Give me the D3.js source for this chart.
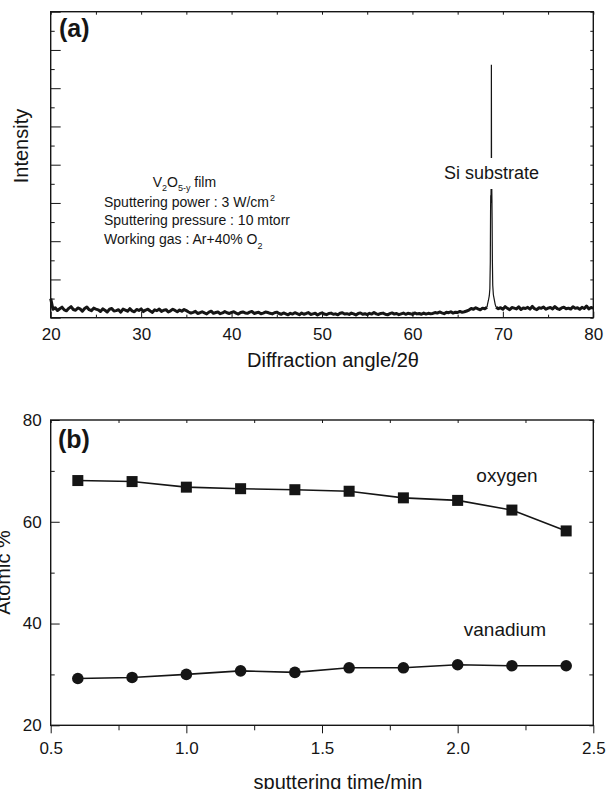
<!DOCTYPE html>
<html>
<head>
<meta charset="utf-8">
<script src="https://cdn.jsdelivr.net/npm/d3@7"></script>
<style>
body{margin:0;background:#fff;}
svg{display:block;font-family:"Liberation Sans",Arial,Helvetica,sans-serif;}
</style>
</head>
<body>
<svg id="vis" width="606" height="789"></svg>
<script>
// ---- panel (a): XRD scan, arbitrary counts
var scanLowStart = 20, scanHighStart = 69.25, scanStep = 0.25;
var scanLow = [
    100, 44, 52, 38, 47, 55, 41, 36, 49, 58, 43, 39, 51, 46, 34, 48, 56, 42, 37, 50, 45,
    41, 33, 46, 39, 30, 44, 48, 35, 37, 42, 29, 45, 40, 34, 47, 36, 31, 43, 38, 46,
    32, 40, 44, 35, 28, 41, 37, 45, 33, 39, 42, 30, 36, 44, 38, 31, 40, 34, 43, 37,
    30, 24, 28, 33, 22, 26, 31, 25, 20, 29, 34, 23, 27, 30, 21, 25, 32, 26, 22, 28,
    31, 24, 19, 27, 30, 25, 23, 29, 33, 22, 26, 28, 21, 24, 30, 27, 23, 20, 26, 29,
    22, 18, 25, 20, 15, 23, 19, 26, 21, 16, 24, 18, 22, 27, 17, 20, 23, 14, 21, 25,
    19, 16, 22, 24, 18, 20, 15, 23, 26, 19, 21, 17, 24, 20, 14, 22, 25, 18, 21, 16,
    23, 19, 27, 20, 17, 22, 24, 18, 15, 21, 25, 19, 22, 16, 20, 24, 18, 23, 21, 17,
    25, 20, 22, 18, 24, 19, 23, 21,
    22, 27, 24, 30, 25, 21, 28, 26, 31, 24, 29, 27, 33, 28, 31, 35,
    40, 48, 44, 52, 46, 41, 50, 47, 55
];
var peakAngles = [68.3, 68.4, 68.5, 68.56, 68.61, 68.64, 68.66, 68.68, 68.7, 68.72, 68.73, 68.75, 68.77, 68.79, 68.81, 68.84, 68.88, 68.95, 69.05, 69.15];
var peakCounts = [70, 90, 115, 150, 290, 560, 640, 600, 680, 650, 1323, 660, 690, 620, 520, 300, 170, 120, 95, 70];
var scanHigh = [
    55, 47, 52, 44, 58, 49, 42, 53, 50, 46, 57, 43, 51, 48, 54, 45, 59, 47, 42, 52,
    49, 56, 44, 50, 53, 46, 58, 48, 43, 51, 55, 47, 50, 45, 57, 49, 52, 44, 54, 48,
    61, 46, 53, 50
];
var angleTicks = [20, 30, 40, 50, 60, 70, 80];

// ---- panel (b): composition vs sputtering time
var times = [0.6, 0.8, 1.0, 1.2, 1.4, 1.6, 1.8, 2.0, 2.2, 2.4];
var oxygen = [68.1, 67.9, 66.8, 66.5, 66.3, 66.0, 64.7, 64.2, 62.3, 58.2];
var vanadium = [29.2, 29.4, 30.0, 30.7, 30.4, 31.3, 31.3, 31.9, 31.7, 31.7];
var timeTicks = [0.5, 1.0, 1.5, 2.0, 2.5];
var atomicTicks = [20, 40, 60, 80];

var svg = d3.select('#vis');
var ink = '#151515';
var plotL = 50.7, plotR = 593.3;

// ============ panel (a)
var lowPts = scanLow.map(function(c, i){ return {a: scanLowStart + i * scanStep, c: c}; });
var highPts = scanHigh.map(function(c, i){ return {a: scanHighStart + i * scanStep, c: c}; });
var peakPts = peakAngles.map(function(a, i){ return {a: a, c: peakCounts[i]}; });
peakPts.unshift(lowPts[lowPts.length - 1]);
peakPts.push(highPts[0]);

var xa = d3.scaleLinear().domain([20, 80]).range([plotL, plotR]);
var ya = d3.scaleLinear().domain([0, 1600]).range([317.7, 11.7]);

var ga = svg.append('g').attr('class', 'panel-a');

function noDomain(g){ g.select('.domain').remove(); }

var scanLine = d3.line().x(function(d){ return xa(d.a); }).y(function(d){ return ya(d.c); });

// noisy background is a dense band, the peak itself is thin
[lowPts, highPts].forEach(function(pts){
    ga.append('path')
        .datum(pts)
        .attr('fill', 'none')
        .attr('stroke', ink)
        .attr('stroke-width', 3)
        .attr('stroke-linejoin', 'round')
        .attr('d', scanLine);
});
ga.append('path')
    .datum(peakPts)
    .attr('fill', 'none')
    .attr('stroke', ink)
    .attr('stroke-width', 1.2)
    .attr('d', scanLine);

// label sits on a white patch that breaks the peak line
ga.append('rect')
    .attr('x', 442).attr('y', 158)
    .attr('width', 100).attr('height', 31)
    .attr('fill', '#fff');
ga.append('text')
    .attr('x', 491.5).attr('y', 179)
    .attr('text-anchor', 'middle')
    .attr('font-size', 18)
    .attr('fill', ink)
    .text('Si substrate');

// axes (ticks only, frame drawn separately)
ga.append('g').attr('transform', 'translate(0,317.7)').attr('color', ink)
    .call(d3.axisBottom(xa).tickValues(angleTicks).tickSize(-6).tickPadding(10).tickFormat(d3.format('d')))
    .call(noDomain)
    .selectAll('text').attr('font-size', 17).attr('fill', ink);
ga.append('g').attr('transform', 'translate(0,317.7)').attr('color', ink)
    .call(d3.axisBottom(xa).tickValues(d3.range(25, 80, 10)).tickSize(-3).tickFormat(''))
    .call(noDomain);
ga.append('g').attr('transform', 'translate(0,11.7)').attr('color', ink)
    .call(d3.axisTop(xa).tickValues(d3.range(20, 81, 5)).tickSize(-3).tickFormat(''))
    .call(noDomain);
ga.append('g').attr('transform', 'translate(' + plotL + ',0)').attr('color', ink)
    .call(d3.axisLeft(ya).tickValues(d3.range(0, 1601, 200)).tickSize(-10).tickFormat(''))
    .call(noDomain);
ga.append('g').attr('transform', 'translate(' + plotL + ',0)').attr('color', ink)
    .call(d3.axisLeft(ya).tickValues(d3.range(100, 1600, 200)).tickSize(-4).tickFormat(''))
    .call(noDomain);
ga.append('g').attr('transform', 'translate(' + plotR + ',0)').attr('color', ink)
    .call(d3.axisRight(ya).tickValues(d3.range(0, 1601, 100)).tickSize(-3).tickFormat(''))
    .call(noDomain);

ga.append('rect')
    .attr('x', plotL).attr('y', 11.7)
    .attr('width', plotR - plotL).attr('height', 306)
    .attr('fill', 'none').attr('stroke', ink).attr('stroke-width', 1.4);

ga.append('text')
    .attr('x', 59).attr('y', 37)
    .attr('font-size', 25).attr('font-weight', 'bold').attr('fill', ink)
    .text('(a)');

ga.append('text')
    .attr('transform', 'translate(27.5,146) rotate(-90)')
    .attr('text-anchor', 'middle')
    .attr('font-size', 20).attr('fill', ink)
    .text('Intensity');

ga.append('text')
    .attr('x', 333).attr('y', 367)
    .attr('text-anchor', 'middle')
    .attr('font-size', 20).attr('fill', ink)
    .text('Diffraction angle/2θ');

// deposition notes
var note = ga.append('g').attr('font-size', 14).attr('fill', ink);
var t1 = note.append('text').attr('x', 152.7).attr('y', 187);
t1.append('tspan').text('V');
t1.append('tspan').attr('dy', 4).attr('font-size', 9).text('2');
t1.append('tspan').attr('dy', -4).text('O');
t1.append('tspan').attr('dy', 4).attr('font-size', 9).text('5-y');
t1.append('tspan').attr('dy', -4).text(' film');
var t2 = note.append('text').attr('x', 104).attr('y', 206.7);
t2.append('tspan').text('Sputtering power : 3 W/cm');
t2.append('tspan').attr('dy', -6).attr('dx', 1).attr('font-size', 9).text('2');
note.append('text').attr('x', 104).attr('y', 225.3).text('Sputtering pressure : 10 mtorr');
var t4 = note.append('text').attr('x', 104).attr('y', 243.7);
t4.append('tspan').text('Working gas : Ar+40% O');
t4.append('tspan').attr('dy', 5).attr('font-size', 9).text('2');

// ============ panel (b)
var xb = d3.scaleLinear().domain([0.5, 2.5]).range([plotL, plotR]);
var yb = d3.scaleLinear().domain([20, 80]).range([725.3, 420]);

var gb = svg.append('g').attr('class', 'panel-b');

gb.append('g').attr('transform', 'translate(0,725.3)').attr('color', ink)
    .call(d3.axisBottom(xb).tickValues(timeTicks).tickSize(8).tickPadding(9).tickFormat(d3.format('.1f')))
    .call(noDomain)
    .selectAll('text').attr('font-size', 17).attr('fill', ink);
gb.append('g').attr('transform', 'translate(0,725.3)').attr('color', ink)
    .call(d3.axisBottom(xb).tickValues([0.75, 1.25, 1.75, 2.25]).tickSize(5).tickFormat(''))
    .call(noDomain);
gb.append('g').attr('transform', 'translate(0,420)').attr('color', ink)
    .call(d3.axisTop(xb).tickValues(d3.range(0.5, 2.51, 0.25)).tickSize(-3).tickFormat(''))
    .call(noDomain);
gb.append('g').attr('transform', 'translate(' + plotL + ',0)').attr('color', ink)
    .call(d3.axisLeft(yb).tickValues(atomicTicks).tickSize(-9).tickPadding(9).tickFormat(d3.format('d')))
    .call(noDomain)
    .selectAll('text').attr('font-size', 17).attr('fill', ink);
gb.append('g').attr('transform', 'translate(' + plotL + ',0)').attr('color', ink)
    .call(d3.axisLeft(yb).tickValues([30, 50, 70]).tickSize(-4).tickFormat(''))
    .call(noDomain);
gb.append('g').attr('transform', 'translate(' + plotR + ',0)').attr('color', ink)
    .call(d3.axisRight(yb).tickValues(d3.range(20, 81, 10)).tickSize(-4).tickFormat(''))
    .call(noDomain);

gb.append('rect')
    .attr('x', plotL).attr('y', 420)
    .attr('width', plotR - plotL).attr('height', 305.3)
    .attr('fill', 'none').attr('stroke', ink).attr('stroke-width', 1.4);

var series = [
    {name: 'oxygen', values: oxygen, shape: 'square'},
    {name: 'vanadium', values: vanadium, shape: 'circle'}
];
var lineB = d3.line()
    .x(function(d){ return xb(d.t); })
    .y(function(d){ return yb(d.v); });

series.forEach(function(s){
    var pts = times.map(function(t, i){ return {t: t, v: s.values[i]}; });
    gb.append('path')
        .datum(pts)
        .attr('fill', 'none')
        .attr('stroke', ink)
        .attr('stroke-width', 1.6)
        .attr('d', lineB);
    if (s.shape == 'square'){
        gb.selectAll('.pt-' + s.name).data(pts).enter().append('rect')
            .attr('class', 'pt-' + s.name)
            .attr('x', function(d){ return xb(d.t) - 5.5; })
            .attr('y', function(d){ return yb(d.v) - 5.5; })
            .attr('width', 11).attr('height', 11)
            .attr('fill', ink);
    }
    else{
        gb.selectAll('.pt-' + s.name).data(pts).enter().append('circle')
            .attr('class', 'pt-' + s.name)
            .attr('cx', function(d){ return xb(d.t); })
            .attr('cy', function(d){ return yb(d.v); })
            .attr('r', 5.8)
            .attr('fill', ink);
    }
});

gb.append('text')
    .attr('x', 507).attr('y', 481.7)
    .attr('text-anchor', 'middle')
    .attr('font-size', 19).attr('fill', ink)
    .text('oxygen');
gb.append('text')
    .attr('x', 505).attr('y', 636)
    .attr('text-anchor', 'middle')
    .attr('font-size', 19).attr('fill', ink)
    .text('vanadium');

gb.append('text')
    .attr('x', 58).attr('y', 448)
    .attr('font-size', 25).attr('font-weight', 'bold').attr('fill', ink)
    .text('(b)');

gb.append('text')
    .attr('transform', 'translate(9.5,572.5) rotate(-90)')
    .attr('text-anchor', 'middle')
    .attr('font-size', 20).attr('fill', ink)
    .text('Atomic %');

gb.append('text')
    .attr('x', 338).attr('y', 789)
    .attr('text-anchor', 'middle')
    .attr('font-size', 20).attr('fill', ink)
    .text('sputtering time/min');
</script>
</body>
</html>
